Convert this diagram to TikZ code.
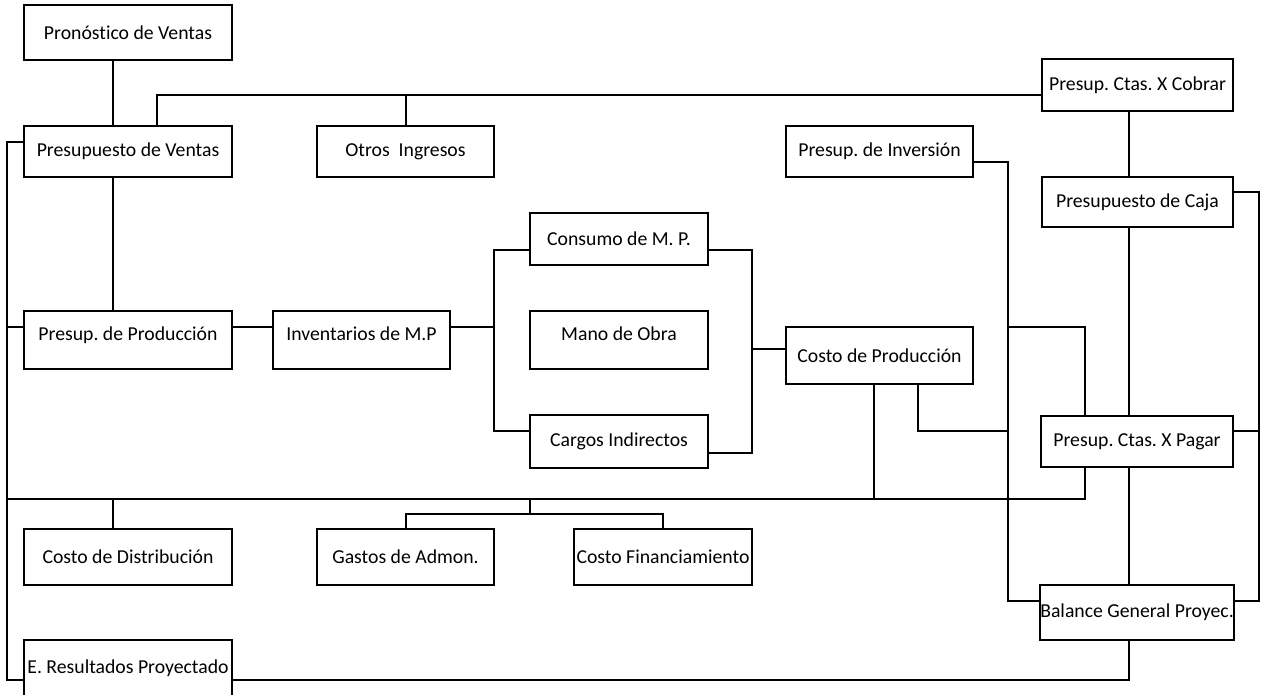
\documentclass[tikz,border=0pt]{standalone}
\usepackage{fontspec}
\setmainfont{Carlito}[Ligatures=NoCommon]
\frenchspacing
\begin{document}
\begin{tikzpicture}[x=0.75pt,y=-0.75pt,
  box/.style={draw,line width=1.7pt,fill=white,inner sep=0pt,font=\fontsize{14.8}{17}\selectfont\frenchspacing},
  up/.style={text depth=9pt},
  conn/.style={line width=1.7pt,line join=miter}]
\useasboundingbox (0,0) rectangle (1264,694);
% boxes
\node[box,minimum width=156pt,minimum height=41.25pt] (pron) at (128,32.5) {Pronóstico de Ventas};
\node[box,minimum width=156pt,minimum height=38.25pt] (pventas) at (128,151.5) {Presupuesto de Ventas};
\node[box,minimum width=132.75pt,minimum height=38.25pt] (otros) at (405.5,151.5) {Otros\ \ Ingresos};
\node[box,minimum width=140.25pt,minimum height=38.25pt] (inv) at (879.5,151.5) {Presup. de Inversión};
\node[box,minimum width=143.25pt,minimum height=39pt] (cobrar) at (1137.5,85) {Presup. Ctas. X Cobrar};
\node[box,minimum width=143.25pt,minimum height=37.5pt] (caja) at (1137.5,202) {Presupuesto de Caja};
\node[box,minimum width=133.5pt,minimum height=39pt] (consumo) at (619,239) {Consumo de M. P.};
\node[box,up,minimum width=156pt,minimum height=43.5pt] (pprod) at (128,340) {Presup. de Producción};
\node[box,up,minimum width=132.75pt,minimum height=43.5pt] (inventarios) at (361.5,340) {Inventarios de M.P};
\node[box,up,minimum width=133.5pt,minimum height=43.5pt] (mano) at (619,340) {Mano de Obra};
\node[box,minimum width=140.25pt,minimum height=42.75pt] (costoprod) at (879.5,355.5) {Costo de Producción};
\node[box,minimum width=133.5pt,minimum height=39.75pt] (cargos) at (619,441.5) {Cargos Indirectos};
\node[box,minimum width=144pt,minimum height=38.25pt] (pagar) at (1137,441.5) {Presup. Ctas. X Pagar};
\node[box,minimum width=156pt,minimum height=42pt] (cdist) at (128,557) {Costo de Distribución};
\node[box,minimum width=132.75pt,minimum height=42pt] (gastos) at (405.5,557) {Gastos de Admon.};
\node[box,minimum width=133.5pt,minimum height=42pt] (cfin) at (663,557) {Costo Financiamiento};
\node[box,minimum width=144pt,minimum height=41.25pt] (balance) at (1137,612.5) {Balance General Proyec.};
\node[box,minimum width=156pt,minimum height=42pt] (eres) at (128,668) {E. Resultados Proyectado};
% routing coordinates
\coordinate (c113) at (113,0);
\coordinate (c157) at (157,95);
\coordinate (t1) at (406,95);
\coordinate (cx) at (1129,0);
\coordinate (R1) at (1259,192);
\coordinate (R2) at (1259,601);
\coordinate (R3) at (1259,431);
\coordinate (V1) at (1008,162);
\coordinate (V2) at (1008,601);
\coordinate (P1) at (1008,327);
\coordinate (P2) at (1085,327);
\coordinate (Q1) at (918,431);
\coordinate (B1) at (874,499);
\coordinate (B2) at (1085,499);
\coordinate (L0) at (7,499);
\coordinate (LT) at (7,142);
\coordinate (LB) at (7,680);
\coordinate (L1) at (7,327);
\coordinate (BB) at (1129,680);
\coordinate (M0) at (494,250);
\coordinate (M1) at (494,327);
\coordinate (M2) at (494,431);
\coordinate (N0) at (752,250);
\coordinate (N1) at (752,349);
\coordinate (N2) at (752,453);
\coordinate (D1) at (113,499);
\coordinate (G0) at (530,499);
\coordinate (G1) at (530,514);
\coordinate (G2) at (406,514);
\coordinate (G3) at (663,514);
% connectors
\begin{scope}[conn]
\draw (pron.south -| c113) -- (pventas.north -| c113);
\draw (pventas.north -| c157) -- (c157) -- (cobrar.west |- c157);
\draw (otros.north -| t1) -- (t1);
\draw (cobrar.south -| cx) -- (caja.north -| cx);
\draw (caja.south -| cx) -- (pagar.north -| cx);
\draw (pagar.south -| cx) -- (balance.north -| cx);
\draw (balance.south -| BB) -- (BB) -- (eres.east |- BB);
\draw (caja.east |- R1) -- (R1) -- (R2) -- (balance.east |- R2);
\draw (pagar.east |- R3) -- (R3);
\draw (inv.east |- V1) -- (V1) -- (V2) -- (balance.west |- V2);
\draw (P1) -- (P2) -- (pagar.north -| P2);
\draw (costoprod.south -| Q1) -- (Q1) -- (Q1 -| V1);
\draw (costoprod.south -| B1) -- (B1);
\draw (pagar.south -| B2) -- (B2) -- (L0);
\draw (pventas.west |- LT) -- (LT) -- (LB) -- (eres.west |- LB);
\draw (L1) -- (pprod.west |- L1);
\draw (pventas.south -| c113) -- (pprod.north -| c113);
\draw (pprod.east |- L1) -- (inventarios.west |- L1);
\draw (inventarios.east |- M1) -- (M1);
\draw (consumo.west |- M0) -- (M0) -- (M2) -- (cargos.west |- M2);
\draw (consumo.east |- N0) -- (N0) -- (N2) -- (cargos.east |- N2);
\draw (N1) -- (costoprod.west |- N1);
\draw (D1) -- (cdist.north -| D1);
\draw (G0) -- (G1);
\draw (gastos.north -| G2) -- (G2) -- (G3) -- (cfin.north -| G3);
\end{scope}
\end{tikzpicture}
\end{document}
